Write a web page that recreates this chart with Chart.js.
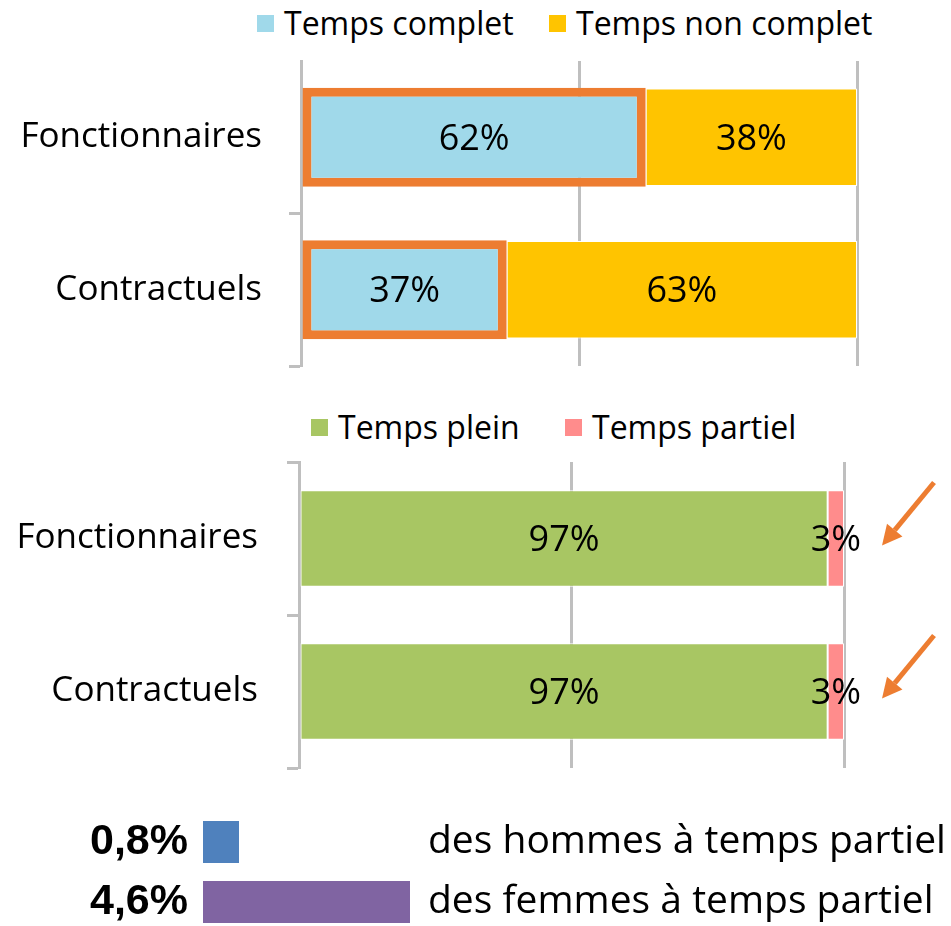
<!DOCTYPE html>
<html>
<head>
<meta charset="utf-8">
<script src="https://cdn.jsdelivr.net/npm/chart.js@4.4.1/dist/chart.umd.min.js"></script>
<style>
  html, body { margin: 0; padding: 0; background: #fff; overflow: hidden; }
  body { width: 951px; height: 926px; position: relative; font-family: "Open Sans", sans-serif; color: #000; }
  canvas { position: absolute; left: 0; }
  .leg { position: absolute; display: flex; align-items: center; font-size: 32px; white-space: nowrap; line-height: 1; }
  .leg span.box { display: inline-block; width: 17px; height: 17px; margin-right: 10px; }
</style>
</head>
<body>
<div class="leg" style="left:257px; top:7px;"><span class="box" style="background:#a0d9ea"></span>Temps complet</div>
<div class="leg" style="left:549px; top:7px;"><span class="box" style="background:#ffc400"></span>Temps non complet</div>
<canvas id="statut" width="951" height="316" style="top:55px"></canvas>

<div class="leg" style="left:311px; top:411px;"><span class="box" style="background:#a8c663"></span>Temps plein</div>
<div class="leg" style="left:565px; top:411px;"><span class="box" style="background:#ff8c8c"></span>Temps partiel</div>
<canvas id="temps" width="951" height="320" style="top:455px"></canvas>

<canvas id="sexe" width="951" height="120" style="top:812px"></canvas>

<script>
// donnees
const categories = ['Fonctionnaires', 'Contractuels'];
const tempsComplet = [62, 37];
const tempsNonComplet = [38, 63];
const tempsPlein = [97, 97];
const tempsPartiel = [3, 3];
const partLabels = ['0,8%', '4,6%'];
const partTextes = ['des hommes à temps partiel', 'des femmes à temps partiel'];
const partValeurs = [0.8, 4.6];

Chart.defaults.color = '#000';
Chart.defaults.font.family = '"Open Sans", sans-serif';

const grisAxe = '#bfbfbf';

// pas de marge auto autour des etiquettes d'axe
function sansMarge(s) {
  s.paddingTop = 0;
  s.paddingBottom = 0;
}

// etiquettes % au centre des barres
const etiquettes = {
  id: 'etiquettes',
  afterDatasetsDraw(chart) {
    const ctx = chart.ctx;
    ctx.save();
    ctx.font = '36px "Open Sans", sans-serif';
    ctx.fillStyle = '#000';
    ctx.textAlign = 'center';
    ctx.textBaseline = 'middle';
    chart.data.datasets.forEach((ds, i) => {
      chart.getDatasetMeta(i).data.forEach((bar, j) => {
        ctx.fillText(ds.data[j] + '%', (bar.x + bar.base) / 2, bar.y + 2);
      });
    });
    ctx.restore();
  }
};

// fleches orange a droite des barres temps partiel
const fleches = {
  id: 'fleches',
  afterDraw(chart) {
    const ctx = chart.ctx;
    const right = chart.chartArea.right;
    ctx.save();
    ctx.strokeStyle = '#ed7d31';
    ctx.fillStyle = '#ed7d31';
    ctx.lineWidth = 5;
    chart.getDatasetMeta(1).data.forEach((bar) => {
      const x1 = right + 90, y1 = bar.y - 56;
      const x2 = right + 38, y2 = bar.y + 7;
      const a = Math.atan2(y2 - y1, x2 - x1);
      const len = 20;
      const bx = x2 - len * Math.cos(a), by = y2 - len * Math.sin(a);
      ctx.beginPath();
      ctx.moveTo(x1, y1);
      ctx.lineTo(bx, by);
      ctx.stroke();
      ctx.beginPath();
      ctx.moveTo(x2, y2);
      ctx.lineTo(bx + 10 * Math.sin(a), by - 10 * Math.cos(a));
      ctx.lineTo(bx - 10 * Math.sin(a), by + 10 * Math.cos(a));
      ctx.closePath();
      ctx.fill();
    });
    ctx.restore();
  }
};

function axeX() {
  return {
    stacked: true, min: 0, max: 100,
    ticks: { display: false, stepSize: 50 },
    grid: { color: grisAxe, lineWidth: 3, drawTicks: false },
    border: { display: false },
    afterFit(s) { s.height = 0; s.paddingLeft = 0; s.paddingRight = 0; }
  };
}

function axeY(largeur, padding, cacherPremier) {
  return {
    stacked: true,
    ticks: { padding: padding, font: { size: 35 }, autoSkip: false },
    grid: {
      drawOnChartArea: false, tickLength: 12, tickWidth: 3,
      tickColor: (c) => (cacherPremier && c.index === 0) ? 'rgba(0,0,0,0)' : grisAxe
    },
    border: { display: true, color: grisAxe, width: 3 },
    afterFit(s) { s.width = largeur; sansMarge(s); }
  };
}

new Chart(document.getElementById('statut'), {
  type: 'bar',
  data: {
    labels: categories,
    datasets: [
      {
        label: 'Temps complet', data: tempsComplet, backgroundColor: '#a0d9ea',
        borderColor: '#ed7d31', borderWidth: 9, borderSkipped: false,
        barPercentage: 0.65, categoryPercentage: 1
      },
      {
        label: 'Temps non complet', data: tempsNonComplet, backgroundColor: '#ffc400',
        borderColor: '#fff', borderWidth: 1, borderSkipped: false,
        barPercentage: 0.64, categoryPercentage: 1
      }
    ]
  },
  options: {
    indexAxis: 'y',
    responsive: false,
    animation: false,
    layout: { padding: { top: 6, bottom: 5, left: 0, right: 94 } },
    plugins: { legend: { display: false }, tooltip: { enabled: false } },
    scales: { x: axeX(), y: axeY(301, 27, true) }
  },
  plugins: [etiquettes]
});

new Chart(document.getElementById('temps'), {
  type: 'bar',
  data: {
    labels: categories,
    datasets: [
      {
        label: 'Temps plein', data: tempsPlein, backgroundColor: '#a8c663',
        borderColor: '#fff', borderWidth: 1, borderSkipped: false,
        barPercentage: 0.63, categoryPercentage: 1
      },
      {
        label: 'Temps partiel', data: tempsPartiel, backgroundColor: '#ff8c8c',
        borderColor: '#fff', borderWidth: 1, borderSkipped: false,
        barPercentage: 0.63, categoryPercentage: 1
      }
    ]
  },
  options: {
    indexAxis: 'y',
    responsive: false,
    animation: false,
    layout: { padding: { top: 7, bottom: 7, left: 0, right: 107 } },
    plugins: { legend: { display: false }, tooltip: { enabled: false } },
    scales: { x: axeX(), y: axeY(299, 29, false) }
  },
  plugins: [etiquettes, fleches]
});

new Chart(document.getElementById('sexe'), {
  type: 'bar',
  data: {
    labels: partLabels,
    datasets: [{
      data: partValeurs,
      backgroundColor: ['#4f81bd', '#8064a2'],
      barPercentage: 0.7, categoryPercentage: 1
    }]
  },
  options: {
    indexAxis: 'y',
    responsive: false,
    animation: false,
    layout: { padding: 0 },
    plugins: { legend: { display: false }, tooltip: { enabled: false } },
    scales: {
      x: {
        min: 0, max: 5, display: false
      },
      y: {
        ticks: { padding: 15, autoSkip: false, font: { family: '"Liberation Sans", Arial, sans-serif', size: 43, weight: 'bold' } },
        grid: { display: false, drawTicks: false },
        border: { display: false },
        afterFit(s) { s.width = 203; sansMarge(s); }
      },
      y2: {
        type: 'category', position: 'right', offset: true,
        labels: partTextes,
        ticks: { padding: 0, autoSkip: false, font: { size: 39 } },
        grid: { display: false, drawTicks: false },
        border: { display: false },
        afterFit(s) { s.width = 523; sansMarge(s); }
      }
    }
  }
});
</script>
</body>
</html>
